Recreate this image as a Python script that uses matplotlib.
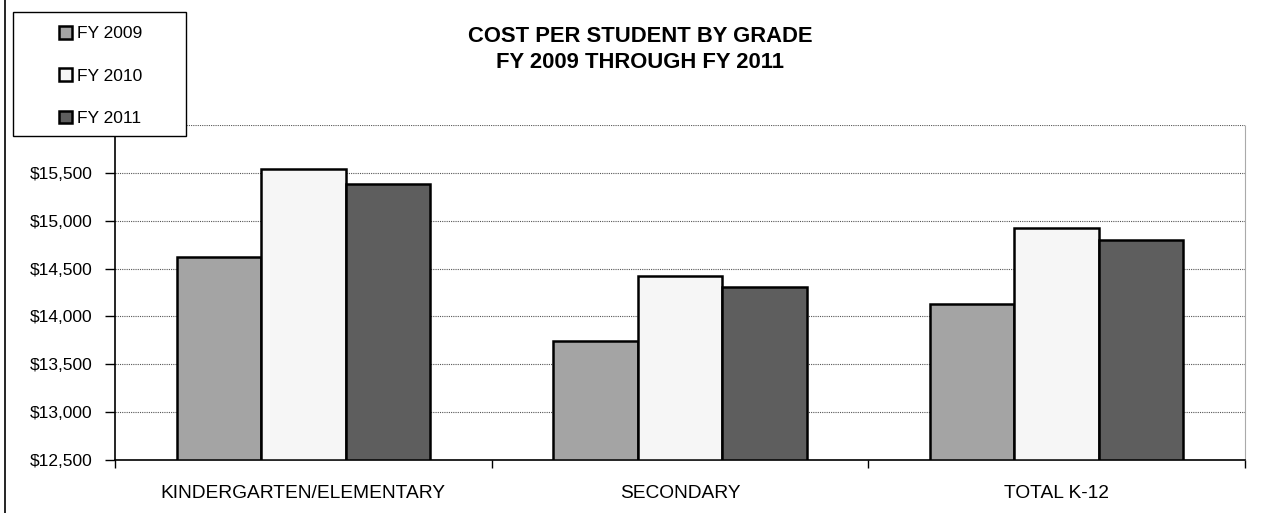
import matplotlib
matplotlib.use('Agg')
import matplotlib.pyplot as plt
from matplotlib.lines import Line2D
from matplotlib.patches import Rectangle
import numpy as np

plt.rcParams['font.family'] = ['Liberation Sans', 'DejaVu Sans']

categories = ['KINDERGARTEN/ELEMENTARY', 'SECONDARY', 'TOTAL K-12']
series_names = ['FY 2009', 'FY 2010', 'FY 2011']
fy2009 = [14620, 13740, 14125]
fy2010 = [15540, 14420, 14920]
fy2011 = [15380, 14310, 14800]
y_ticks = [12500, 13000, 13500, 14000, 14500, 15000, 15500, 16000]

colors = ['#a4a4a4', '#f6f6f6', '#5e5e5e']

fig = plt.figure(figsize=(12.73, 5.13), dpi=100)
ax = fig.add_axes([115 / 1273, 1 - 460 / 513, 1130 / 1273, 335 / 513])

x = np.arange(len(categories))
width = 0.224
for i, (vals, name) in enumerate(zip([fy2009, fy2010, fy2011], series_names)):
    ax.bar(x + (i - 1) * width, np.array(vals) - 12500, width, bottom=12500,
           color=colors[i], edgecolor='black', linewidth=1.8, label=name, zorder=3)

ax.set_xlim(-0.5, 2.5)
ax.set_ylim(12500, 16000)
ax.set_yticks(y_ticks[:-1])
ax.set_yticklabels(['${:,}'.format(v) for v in y_ticks[:-1]], fontsize=12.5)
ax.set_xticks(x)
ax.set_xticklabels(categories, fontsize=13.8)
ax.tick_params(axis='x', which='major', length=0, pad=18)
ax.set_xticks([-0.5, 0.5, 1.5, 2.5], minor=True)
ax.tick_params(axis='x', which='minor', length=6, width=1, direction='out')
ax.tick_params(axis='y', length=7, width=1, direction='out', pad=9)

# dotted gridlines
for v in y_ticks[1:]:
    ax.axhline(v, color='#555555', linestyle=(0, (1, 1)), linewidth=0.8, zorder=1)

ax.spines['top'].set_visible(False)
ax.spines['right'].set_color('#aaaaaa')
ax.spines['right'].set_linestyle((0, (1, 1)))
ax.spines['right'].set_linewidth(0.8)
ax.spines['left'].set_linewidth(1.2)
ax.spines['bottom'].set_linewidth(1.2)

fig.text(0.503, 1 - 37 / 513, 'COST PER STUDENT BY GRADE', ha='center', va='center',
         fontsize=15.8, fontweight='bold')
fig.text(0.503, 1 - 63 / 513, 'FY 2009 THROUGH FY 2011', ha='center', va='center',
         fontsize=15.8, fontweight='bold')

# legend box drawn by hand, legend content centered inside it
box = Rectangle((13 / 1273, 1 - 136 / 513), 173 / 1273, 124 / 513,
                transform=fig.transFigure, facecolor='white', edgecolor='black',
                linewidth=1.0, zorder=9)
fig.add_artist(box)
leg = fig.legend(loc='center', bbox_to_anchor=(101 / 1273, 1 - 76 / 513),
                 frameon=False, fontsize=12.5, handlelength=0.75,
                 handleheight=0.75, handletextpad=0.3, labelspacing=1.55,
                 borderpad=0, borderaxespad=0)
leg.set_zorder(10)

# figure left border
fig.add_artist(Line2D([5 / 1273, 5 / 1273], [0, 1], color='black', linewidth=1.2))

fig.savefig('out.png', dpi=100)
